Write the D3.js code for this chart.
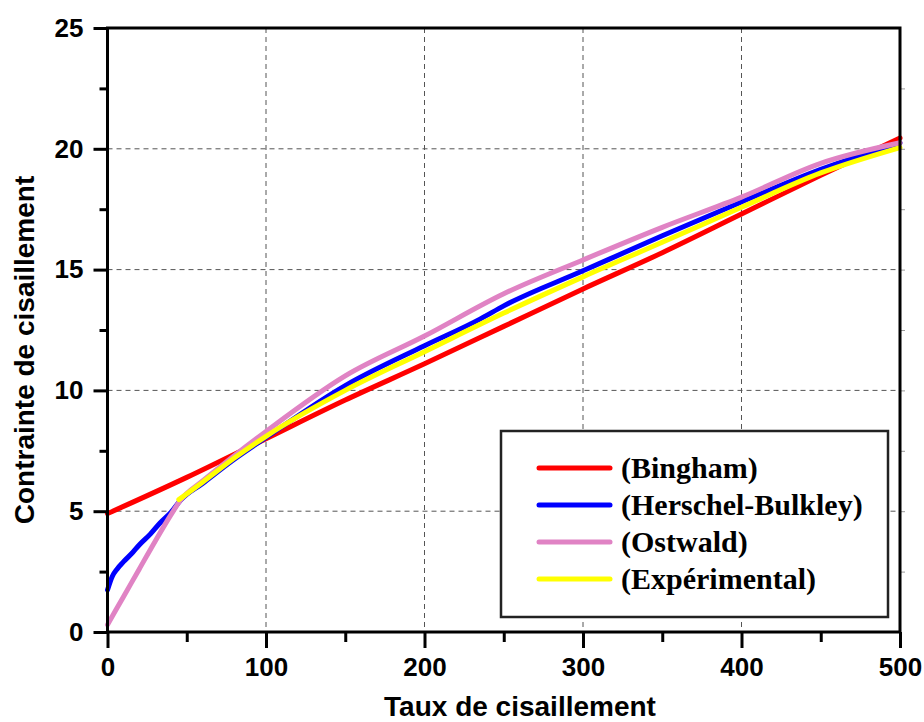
<!DOCTYPE html>
<html>
<meta charset="utf-8">
<style>
body { margin: 0; background: #fff; }
.grid line { stroke: #555; stroke-width: 1; stroke-dasharray: 5,4; }
.axis path { display: none; }
.axis line { stroke: #000; }
.axis text { font: bold 26px "Liberation Sans", Arial, sans-serif; fill: #000; }
.lab { font: bold 28px "Liberation Sans", Arial, sans-serif; fill: #000; }
.leg text { font: bold 30px "Liberation Serif", "Times New Roman", serif; fill: #000; }
</style>
<body>
<svg id="chart" width="924" height="722"></svg>

<script src="https://cdn.jsdelivr.net/npm/d3@7"></script>
<script>
var binghamX = [0, 50, 100, 150, 200, 250, 300, 350, 400, 450, 500];
var binghamY = [4.9, 6.4, 8.0, 9.6, 11.1, 12.65, 14.2, 15.7, 17.3, 18.9, 20.45];

var hbX = [0, 3, 6, 10, 16, 20, 27, 33, 40, 46, 60, 80, 100, 150, 200, 235, 250, 300, 350, 400, 450, 500];
var hbY = [1.74, 2.3, 2.6, 2.9, 3.3, 3.6, 4.05, 4.5, 4.95, 5.45, 6.15, 7.15, 8.05, 10.2, 11.85, 12.95, 13.5, 14.95, 16.4, 17.8, 19.15, 20.25];

var ostX = [0, 10, 20, 30, 40, 46, 60, 80, 100, 150, 200, 250, 300, 350, 400, 450, 500];
var ostY = [0.3, 1.45, 2.6, 3.75, 4.85, 5.45, 6.25, 7.3, 8.3, 10.6, 12.25, 14.0, 15.4, 16.75, 18.0, 19.4, 20.25];

var expX = [45, 60, 80, 100, 150, 200, 250, 300, 350, 400, 450, 500];
var expY = [5.48, 6.2, 7.2, 8.1, 10.0, 11.6, 13.2, 14.7, 16.13, 17.58, 19.0, 20.05];

var seriesNames = ["(Bingham)", "(Herschel-Bulkley)", "(Ostwald)", "(Expérimental)"];
var seriesColors = ["#ff0000", "#0000ff", "#e083c4", "#ffff00"];

var xTicks = [0, 100, 200, 300, 400, 500];
var yTicks = [0, 5, 10, 15, 20, 25];

var pLeft = 107.5, pRight = 900, pTop = 28, pBottom = 632;

var svg = d3.select("#chart");

var x = d3.scaleLinear().domain([0, 500]).range([pLeft, pRight]);
var y = d3.scaleLinear().domain([0, 25]).range([pBottom, pTop]);

// grid
svg.append("g").attr("class", "grid")
	.selectAll("line").data(xTicks.slice(1, -1)).enter().append("line")
	.attr("x1", d => x(d)).attr("x2", d => x(d))
	.attr("y1", pTop).attr("y2", pBottom);
svg.append("g").attr("class", "grid")
	.selectAll("line").data(yTicks.slice(1, -1)).enter().append("line")
	.attr("y1", d => y(d)).attr("y2", d => y(d))
	.attr("x1", pLeft).attr("x2", pRight);

// curves
var line = d3.line().x(d => x(d[0])).y(d => y(d[1])).curve(d3.curveMonotoneX);
var series = [
	d3.zip(binghamX, binghamY),
	d3.zip(hbX, hbY),
	d3.zip(ostX, ostY),
	d3.zip(expX, expY)
];
svg.append("g").selectAll("path").data(series).enter().append("path")
	.attr("d", line)
	.attr("fill", "none")
	.attr("stroke", (d, i) => seriesColors[i])
	.attr("stroke-width", 5)
	.attr("stroke-linecap", "round");

// right axis small ticks
svg.append("g")
	.attr("transform", "translate(" + pRight + ",0)")
	.call(d3.axisRight(y).tickValues(d3.range(2.5, 25, 2.5)).tickSize(5).tickFormat(""))
	.call(g => g.select(".domain").remove())
	.selectAll("line").attr("stroke", "#999").attr("stroke-width", 1);

// frame
svg.append("rect")
	.attr("x", pLeft).attr("y", pTop)
	.attr("width", pRight - pLeft).attr("height", pBottom - pTop)
	.attr("fill", "none").attr("stroke", "#000").attr("stroke-width", 3);

// x axis
var xAxis = svg.append("g").attr("class", "axis")
	.attr("transform", "translate(0," + pBottom + ")");
xAxis.call(d3.axisBottom(x).tickValues(d3.range(50, 500, 100)).tickSize(10).tickFormat(""));
xAxis.selectAll("line").attr("stroke-width", 3);
var xAxis2 = svg.append("g").attr("class", "axis")
	.attr("transform", "translate(0," + pBottom + ")");
xAxis2.call(d3.axisBottom(x).tickValues(xTicks).tickSize(16).tickPadding(10));
xAxis2.selectAll("line").attr("stroke-width", 3);

// y axis
var yAxis = svg.append("g").attr("class", "axis")
	.attr("transform", "translate(" + pLeft + ",0)");
yAxis.call(d3.axisLeft(y).tickValues(d3.range(2.5, 25, 5)).tickSize(8).tickFormat(""));
yAxis.selectAll("line").attr("stroke-width", 3);
var yAxis2 = svg.append("g").attr("class", "axis")
	.attr("transform", "translate(" + pLeft + ",0)");
yAxis2.call(d3.axisLeft(y).tickValues(yTicks).tickSize(14).tickPadding(10));
yAxis2.selectAll("line").attr("stroke-width", 3);

// axis labels
svg.append("text").attr("class", "lab")
	.attr("x", 520).attr("y", 716)
	.attr("text-anchor", "middle")
	.text("Taux de cisaillement");
svg.append("text").attr("class", "lab")
	.attr("transform", "translate(34,350) rotate(-90)")
	.attr("text-anchor", "middle")
	.text("Contrainte de cisaillement");

// legend
var leg = svg.append("g").attr("class", "leg");
leg.append("rect")
	.attr("x", 501).attr("y", 431).attr("width", 387).attr("height", 186)
	.attr("fill", "#fff").attr("stroke", "#222").attr("stroke-width", 2.5);
var rows = leg.selectAll("g.row").data(seriesNames).enter().append("g")
	.attr("class", "row")
	.attr("transform", (d, i) => "translate(0," + (468 + i * 37) + ")");
rows.append("line")
	.attr("x1", 539).attr("x2", 610)
	.attr("stroke", (d, i) => seriesColors[i])
	.attr("stroke-width", 5).attr("stroke-linecap", "round");
rows.append("text")
	.attr("x", 621).attr("y", 10)
	.text(d => d);
</script>
</body>
</html>
